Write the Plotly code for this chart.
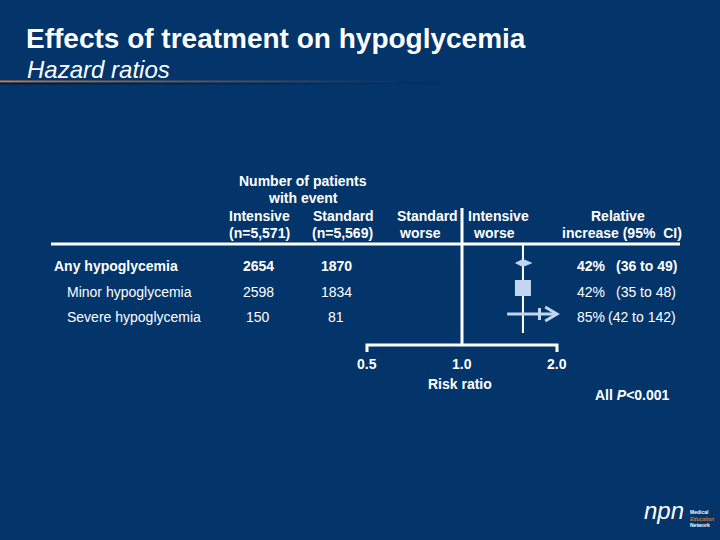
import math
import plotly.graph_objects as go

# ---------------- data ----------------
outcomes = ["Any hypoglycemia", "Minor hypoglycemia", "Severe hypoglycemia"]
outcome_bold = [True, False, False]
intensive_events = ["2654", "2598", "150"]
standard_events = ["1870", "1834", "81"]
rel_increase = ["42%", "42%", "85%"]
ci_text = ["(36 to 49)", "(35 to 48)", "(42 to 142)"]
# plotted risk ratios (as drawn)
est = [1.56, 1.56, 1.76]
lo = [1.48, 1.48, 1.39]
hi = [1.66, 1.66, 2.0]
pooled_ref = 1.56
tick_vals = [0.5, 1.0, 2.0]
tick_labels = ["0.5", "1.0", "2.0"]

BG = "#03356A"
LB = "#C3D6F0"
FONT = "Liberation Sans, Arial, sans-serif"
W, H = 720, 540
FS = 14

row_y = [266, 292, 317]
mark_y = [263, 288, 314]

fig = go.Figure()

# reference line at 1.0
fig.add_trace(go.Scatter(x=[1.0, 1.0], y=[208, 345], mode="lines",
                         line=dict(color="white", width=3), hoverinfo="skip"))
# pooled estimate line
fig.add_trace(go.Scatter(x=[pooled_ref, pooled_ref], y=[245, 333], mode="lines",
                         line=dict(color="white", width=2), hoverinfo="skip"))
# axis bracket
fig.add_trace(go.Scatter(x=[tick_vals[0], tick_vals[0], tick_vals[-1], tick_vals[-1]],
                         y=[352, 345, 345, 352], mode="lines",
                         line=dict(color="white", width=3), hoverinfo="skip"))

# row 0: diamond/ellipse
fig.add_trace(go.Scatter(x=[lo[0], est[0], hi[0], est[0], lo[0]],
                         y=[mark_y[0], mark_y[0] - 3.5, mark_y[0], mark_y[0] + 3.5, mark_y[0]],
                         mode="lines", fill="toself", fillcolor=LB,
                         line=dict(color=LB, width=1), hoverinfo="skip"))
# row 1: square
fig.add_trace(go.Scatter(x=[est[1]], y=[mark_y[1]], mode="markers",
                         marker=dict(symbol="square", size=16, color=LB), hoverinfo="skip"))
# row 2: CI line with arrow
fig.add_trace(go.Scatter(x=[lo[2], hi[2]], y=[mark_y[2], mark_y[2]], mode="lines",
                         line=dict(color=LB, width=3), hoverinfo="skip"))
fig.add_trace(go.Scatter(x=[est[2], est[2]], y=[mark_y[2] - 6, mark_y[2] + 6], mode="lines",
                         line=dict(color=LB, width=3), hoverinfo="skip"))
fig.add_trace(go.Scatter(x=[hi[2] / 1.09, hi[2], hi[2] / 1.09],
                         y=[mark_y[2] - 7, mark_y[2], mark_y[2] + 7], mode="lines",
                         line=dict(color=LB, width=3), hoverinfo="skip"))

annotations = []


def ann(text, x, y, size=FS, bold=False, italic=False, anchor="center", color="white"):
    if bold:
        text = "<b>" + text + "</b>"
    if italic:
        text = "<i>" + text + "</i>"
    annotations.append(dict(text=text, x=x / W, y=1 - y / H, xref="paper", yref="paper",
                            xanchor=anchor, yanchor="middle", showarrow=False, borderpad=0,
                            font=dict(family=FONT, size=size, color=color)))


# title
ann("Effects of treatment on hypoglycemia", 25, 39, size=28, bold=True, anchor="left")
ann("Hazard ratios", 26, 69, size=24, italic=True, anchor="left")

# headers
ann("Number of patients", 303, 181, bold=True)
ann("with event", 303, 198, bold=True)
ann("Intensive", 259, 216, bold=True)
ann("Standard", 343, 216, bold=True)
ann("(n=5,571)", 259, 233, bold=True)
ann("(n=5,569)", 342, 233, bold=True)
ann("Standard", 459, 216, bold=True, anchor="right")
ann("Intensive", 467, 216, bold=True, anchor="left")
ann("worse", 420, 233, bold=True)
ann("worse", 494, 233, bold=True)
ann("Relative", 618, 216, bold=True)
ann("increase (95%  CI)", 622, 233, bold=True)

# rows
ci_x = [615, 615, 607]
for i in range(3):
    b = outcome_bold[i]
    ann(outcomes[i], 53 if b else 66, row_y[i], bold=b, anchor="left")
    ann(intensive_events[i], 258, row_y[i], bold=b)
    ann(standard_events[i], 336, row_y[i], bold=b)
    ann(rel_increase[i], 576, row_y[i], bold=b, anchor="left")
    ann(ci_text[i], ci_x[i], row_y[i], bold=b, anchor="left")

# axis labels
for v, t in zip(tick_vals, tick_labels):
    px = 462 + math.log2(v) * 95
    ann(t, px, 364, bold=True)
ann("Risk ratio", 460, 384, bold=True)
ann("All <i>P</i>&lt;0.001", 632, 395, bold=True)

# logo approximation
ann("npn", 664, 510, size=24, italic=True, anchor="center")
annotations.append(dict(
    text="<b>Medical<br><span style='color:#C08040'><i>Education</i></span><br>Network</b>",
    x=689 / W, y=1 - 518 / H, xref="paper", yref="paper", xanchor="left", yanchor="middle",
    showarrow=False, align="left", borderpad=0, font=dict(family=FONT, size=5, color="white")))

# orange gradient line under title
shapes = []
n = 40
for k in range(n):
    t = k / n
    r0, g0, b0 = 0xD0, 0x80, 0x40
    r1, g1, b1 = 0x03, 0x35, 0x6A
    f = min(1.0, t * 1.1) ** 0.8
    c = "rgb(%d,%d,%d)" % (r0 + (r1 - r0) * f, g0 + (g1 - g0) * f, b0 + (b1 - b0) * f)
    shapes.append(dict(type="line", xref="paper", yref="paper",
                       x0=k * 440 / n / W, x1=(k + 1) * 440 / n / W,
                       y0=1 - 81.5 / H, y1=1 - 81.5 / H, line=dict(color=c, width=2)))
    shapes.append(dict(type="line", xref="paper", yref="paper",
                       x0=k * 440 / n / W, x1=(k + 1) * 440 / n / W,
                       y0=1 - 83.5 / H, y1=1 - 83.5 / H,
                       line=dict(color="rgba(0,10,30,%.2f)" % (0.6 * (1 - t)), width=2)))
# header rule
shapes.append(dict(type="line", xref="paper", yref="paper", x0=51 / W, x1=680 / W,
                   y0=1 - 244 / H, y1=1 - 244 / H, line=dict(color="white", width=3)))

lr0 = -462 * (math.log10(4) / 190)
lr1 = lr0 + W * (math.log10(4) / 190)

fig.update_layout(
    width=W, height=H, margin=dict(l=0, r=0, t=0, b=0),
    paper_bgcolor=BG, plot_bgcolor=BG, showlegend=False,
    xaxis=dict(type="log", range=[lr0, lr1], visible=False, fixedrange=True),
    yaxis=dict(range=[H, 0], visible=False, fixedrange=True),
    annotations=annotations, shapes=shapes,
)

fig.write_html("out.html", config={"displayModeBar": False},
               post_script="document.body.style.margin='0px';")
